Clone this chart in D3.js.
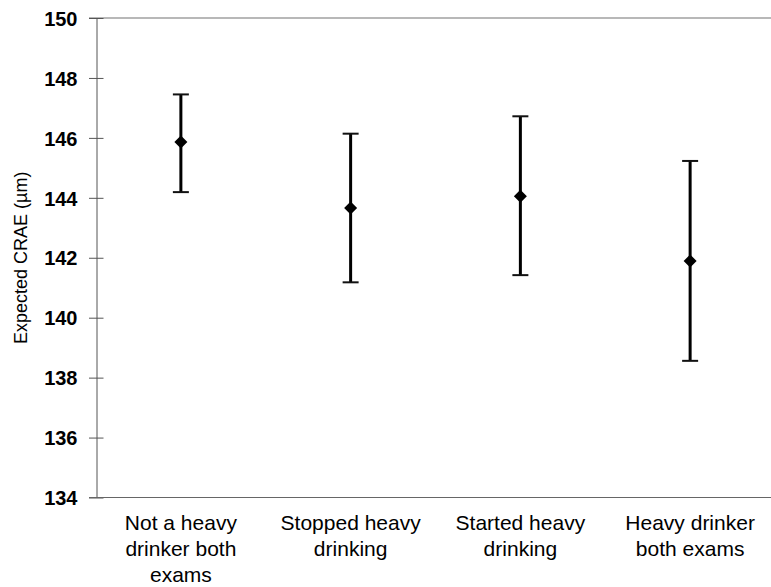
<!DOCTYPE html>
<html>
<head>
<meta charset="utf-8">
<script src="https://cdn.jsdelivr.net/npm/d3@7"></script>
<style>
  body { margin: 0; background: #fff; }
  text { font-family: Arial, "Liberation Sans", sans-serif; }
</style>
</head>
<body>
<div id="chart"></div>
<script>
// data
var categories = [
  ["Not a heavy", "drinker both", "exams"],
  ["Stopped heavy", "drinking"],
  ["Started heavy", "drinking"],
  ["Heavy drinker", "both exams"]
];
var means = [145.86, 143.66, 144.05, 141.89];
var upper = [147.45, 146.14, 146.72, 145.23];
var lower = [144.19, 141.18, 141.42, 138.56];
var yTicks = [134, 136, 138, 140, 142, 144, 146, 148, 150];

var width = 771, height = 587;
var svg = d3.select("#chart").append("svg")
    .attr("width", width)
    .attr("height", height);

// scales
var x = d3.scaleBand()
    .domain(d3.range(categories.length))
    .range([96, 775]);
var y = d3.scaleLinear()
    .domain([134, 150])
    .range([497.5, 18]);

var rows = categories.map(function(c, i) {
  return {i: i, label: c, mean: means[i], hi: upper[i], lo: lower[i]};
});

// top line at 150
svg.append("line")
    .attr("x1", 89).attr("x2", width)
    .attr("y1", y(150)).attr("y2", y(150))
    .attr("stroke", "#a0a0a0").attr("stroke-width", 1.5);

// Y axis
var yAxis = svg.append("g")
    .attr("transform", "translate(96.5,0)")
    .call(d3.axisLeft(y).tickValues(yTicks).tickSize(7).tickSizeOuter(0).tickFormat(d3.format("d")));
yAxis.select(".domain").attr("stroke", "#555");
yAxis.selectAll(".tick line").attr("stroke", "#555").attr("x2", 7).attr("x1", -7.5);
yAxis.selectAll(".tick text")
    .attr("x", -19)
    .attr("dy", "0.36em")
    .style("font-size", "20px")
    .style("font-weight", "bold")
    .attr("fill", "#000");

// bottom axis line
svg.append("line")
    .attr("x1", 89).attr("x2", width)
    .attr("y1", y(134)).attr("y2", y(134))
    .attr("stroke", "#666").attr("stroke-width", 1.2);

// category labels
var lab = svg.append("g").selectAll("text")
  .data(rows)
  .enter().append("text")
    .attr("text-anchor", "middle")
    .attr("transform", function(d) { return "translate(" + (x(d.i) + x.bandwidth() / 2) + ",530)"; })
    .style("font-size", "21px")
    .attr("fill", "#000");
lab.selectAll("tspan")
  .data(function(d) { return d.label; })
  .enter().append("tspan")
    .attr("x", 0)
    .attr("dy", function(d, j) { return j === 0 ? 0 : 26; })
    .text(function(d) { return d; });

// Y title
svg.append("text")
    .attr("transform", "translate(27," + ((y(134) + y(150)) / 2) + ")rotate(-90)")
    .attr("text-anchor", "middle")
    .style("font-size", "18px")
    .attr("fill", "#000")
    .text("Expected CRAE (\u00b5m)");

// error bars
var g = svg.append("g");
var cx = function(d) { return x(d.i) + x.bandwidth() / 2; };
g.selectAll(".bar")
  .data(rows)
  .enter().append("line")
    .attr("x1", cx).attr("x2", cx)
    .attr("y1", function(d) { return y(d.hi); })
    .attr("y2", function(d) { return y(d.lo); })
    .attr("stroke", "#000").attr("stroke-width", 3);
["hi", "lo"].forEach(function(k) {
  g.selectAll(".cap-" + k)
    .data(rows)
    .enter().append("line")
      .attr("x1", function(d) { return cx(d) - 8; })
      .attr("x2", function(d) { return cx(d) + 8; })
      .attr("y1", function(d) { return y(d[k]); })
      .attr("y2", function(d) { return y(d[k]); })
      .attr("stroke", "#111").attr("stroke-width", 2);
});

// diamonds
g.selectAll("path")
  .data(rows)
  .enter().append("path")
    .attr("transform", function(d) { return "translate(" + cx(d) + "," + y(d.mean) + ")"; })
    .attr("d", "M0,-6.5L6.5,0L0,6.5L-6.5,0Z")
    .attr("fill", "#000");
</script>
</body>
</html>
